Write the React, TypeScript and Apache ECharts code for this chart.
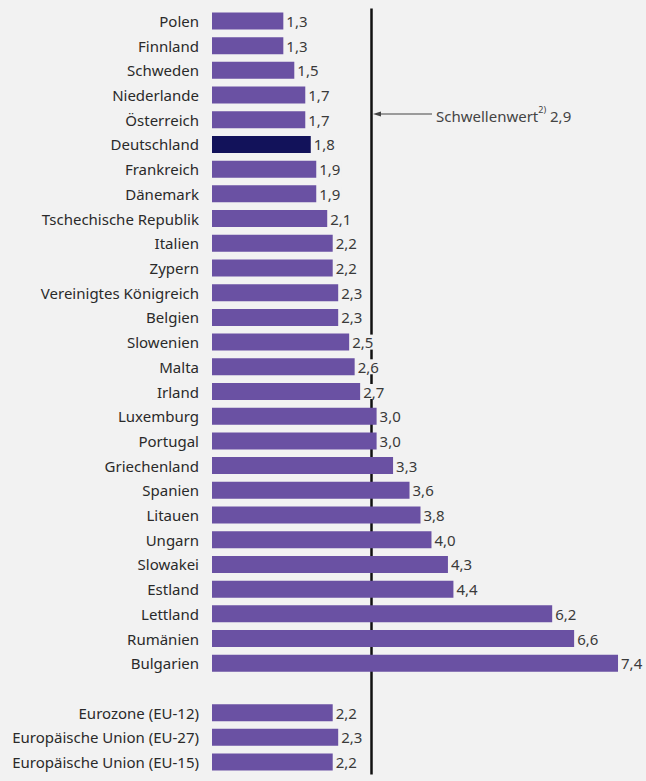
import React, { useEffect, useRef } from "react";
import * as echarts from "echarts";

const categories = [
  "Polen", "Finnland", "Schweden", "Niederlande", "Österreich", "Deutschland",
  "Frankreich", "Dänemark", "Tschechische Republik", "Italien", "Zypern",
  "Vereinigtes Königreich", "Belgien", "Slowenien", "Malta", "Irland",
  "Luxemburg", "Portugal", "Griechenland", "Spanien", "Litauen", "Ungarn",
  "Slowakei", "Estland", "Lettland", "Rumänien", "Bulgarien", "",
  "Eurozone (EU-12)", "Europäische Union (EU-27)", "Europäische Union (EU-15)",
];
const values: (number | null)[] = [
  1.3, 1.3, 1.5, 1.7, 1.7, 1.8, 1.9, 1.9, 2.1, 2.2, 2.2, 2.3, 2.3, 2.5, 2.6,
  2.7, 3.0, 3.0, 3.3, 3.6, 3.8, 4.0, 4.3, 4.4, 6.2, 6.6, 7.4, null,
  2.2, 2.3, 2.2,
];
const highlighted = "Deutschland";
const thresholdValue = 2.9;
const thresholdLabel = "Schwellenwert";
const thresholdSup = "2)";

const BG = "#f2f2f2";
const BAR = "#6a51a3";
const BAR_DARK = "#12125a";
const FONT = "Noto Sans";

export default function App() {
  const ref = useRef<HTMLDivElement>(null);
  useEffect(() => {
    if (!ref.current) return;
    const chart = echarts.init(ref.current, undefined, { renderer: "svg" });
    const fmt = (v: number) => v.toFixed(1).replace(".", ",");
    chart.setOption({
      animation: false,
      backgroundColor: BG,
      textStyle: { fontFamily: FONT },
      grid: { left: 212, right: 17, top: 8.6, bottom: 6.6, containLabel: false },
      xAxis: {
        type: "value",
        min: 0,
        max: 7.6,
        show: false,
      },
      yAxis: {
        type: "category",
        data: categories,
        inverse: true,
        axisLine: { show: false },
        axisTick: { show: false },
        axisLabel: {
          color: "#2a2a2a",
          fontSize: 15,
          margin: 13,
          fontFamily: FONT,
        },
      },
      series: [
        {
          type: "bar",
          barWidth: 17,
          data: values.map((v, i) => ({
            value: v,
            itemStyle: { color: categories[i] === highlighted ? BAR_DARK : BAR },
          })),
          label: {
            show: true,
            position: "right",
            distance: 2,
            color: "#3a3a3a",
            fontSize: 15,
            fontFamily: FONT,
            backgroundColor: BG,
            padding: [0, 1, 0, 1],
            formatter: (p: any) => (p.value == null ? "" : fmt(p.value)),
          },
          markLine: {
            silent: true,
            symbol: "none",
            z: 1,
            label: { show: false },
            lineStyle: { color: "#111", width: 2.5, type: "solid" },
            data: [{ xAxis: thresholdValue }],
          },
        },
      ],
      graphic: [
        {
          type: "line",
          shape: { x1: 378, y1: 114, x2: 432, y2: 114 },
          style: { stroke: "#444", lineWidth: 1 },
        },
        {
          type: "polygon",
          shape: { points: [[373, 114], [381, 111.5], [381, 116.5]] },
          style: { fill: "#444" },
        },
        {
          type: "text",
          x: 436,
          y: 114,
          style: {
            text: `{a|${thresholdLabel}}{s|${thresholdSup}}{a| ${fmt(thresholdValue)}}`,
            verticalAlign: "middle",
            fill: "#444",
            rich: {
              a: { fontSize: 15, fontFamily: FONT, fill: "#444", lineHeight: 18, verticalAlign: "bottom" },
              s: { fontSize: 9, fontFamily: FONT, fill: "#444", lineHeight: 18, verticalAlign: "top" },
            },
          },
        },
      ],
    });
    return () => chart.dispose();
  }, []);
  return (
    <div
      ref={ref}
      style={{ position: "absolute", left: 0, top: 0, width: 646, height: 781 }}
    />
  );
}
